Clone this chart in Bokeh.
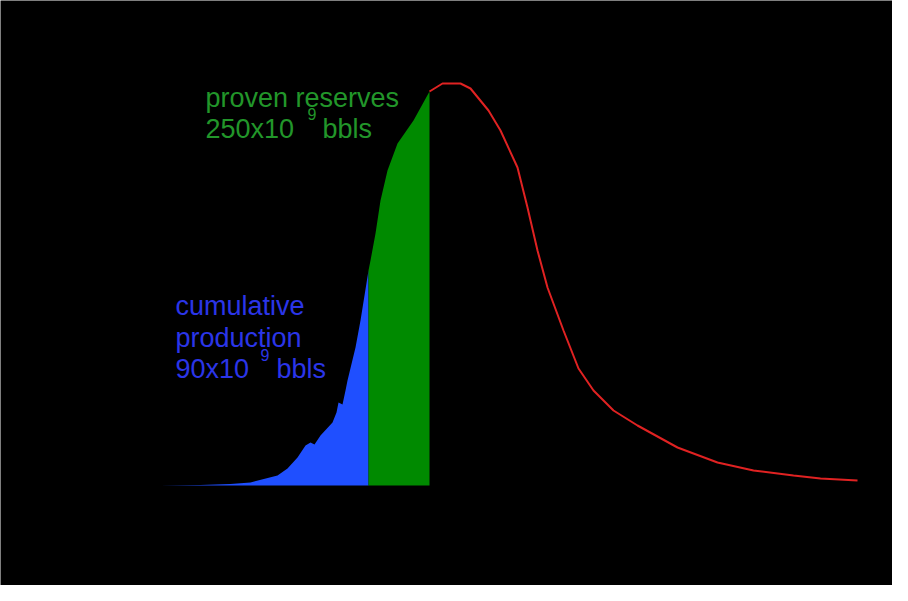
from bokeh.plotting import figure
from bokeh.models import Range1d, Label
from bokeh.embed import file_html
from bokeh.resources import INLINE

# Cumulative production (blue area): year, production rate
prod_years = [1918, 1928, 1935.5, 1940.5, 1947.25, 1949.75, 1952.25, 1954.25, 1955.5,
              1956.5, 1958, 1961, 1962, 1962.5, 1963.5, 1964.25, 1964.75, 1966.75,
              1968, 1969, 1970]
prod_values = [0, 0.12, 0.4, 0.75, 2.5, 4.25, 7, 10, 10.75,
               10.25, 12.5, 15.75, 18.25, 20.75, 20.25, 23.75, 26.25, 34.5,
               41.25, 47.5, 53.75]

# Proven reserves (green area)
res_years = [1970, 1970.5, 1971.75, 1973, 1974.75, 1977.25, 1981.25, 1985.25]
res_values = [53.75, 56.25, 63, 71.25, 78.75, 85.5, 91.25, 98.5]

# Projected production (red line)
proj_years = [1985.25, 1988.5, 1993, 1995.5, 2000, 2003, 2007.25, 2009.75, 2012.25,
              2014.75, 2018.75, 2022.5, 2026.25, 2031.25, 2037.25, 2047.25, 2057.25,
              2066.25, 2076.25, 2083, 2092.25]
proj_values = [98.5, 100.5, 100.5, 99.25, 93.75, 88.75, 79.5, 69.5, 58.75,
               49.5, 38.75, 29.25, 23.75, 18.75, 15, 9.5, 5.75,
               3.75, 2.5, 1.75, 1.25]

p = figure(width=892, height=585, output_backend="svg", toolbar_location=None,
           x_range=Range1d(1878, 2101), y_range=Range1d(-25, 121.25),
           x_axis_location=None, y_axis_location=None, min_border=0)
p.background_fill_color = "black"
p.border_fill_color = "black"
p.outline_line_color = None
p.xgrid.visible = False
p.ygrid.visible = False

p.varea(x=prod_years, y1=[0] * len(prod_years), y2=prod_values, fill_color="#1f4fff")
p.varea(x=res_years, y1=[0] * len(res_years), y2=res_values, fill_color="#008a00")
p.line(x=proj_years, y=proj_values, line_color="#e02222", line_width=2)

font = "Liberation Sans"
green_txt = "#22962a"
blue_txt = "#2b35e8"

def lab(x, y, t, c, size):
    p.add_layout(Label(x=x, y=y, text=t, text_color=c, text_font=font,
                       text_font_size=size, text_baseline="alphabetic"))

lab(1929.25, 97, "proven reserves", green_txt, "27px")
lab(1929.25, 89.25, "250x10", green_txt, "27px")
lab(1954.75, 93, "9", green_txt, "16px")
lab(1958.5, 89.25, "bbls", green_txt, "27px")

lab(1921.75, 45, "cumulative", blue_txt, "27px")
lab(1921.75, 37, "production", blue_txt, "27px")
lab(1921.75, 29.25, "90x10", blue_txt, "27px")
lab(1943, 32.75, "9", blue_txt, "16px")
lab(1947, 29.25, "bbls", blue_txt, "27px")

open("out.html", "w").write(file_html(p, INLINE))
